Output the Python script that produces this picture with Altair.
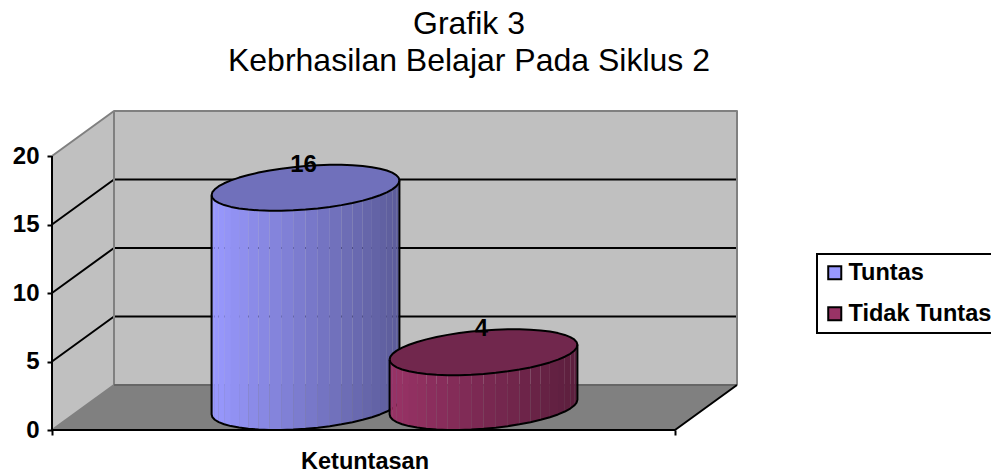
import math
import altair as alt
import pandas as pd

TITLE_LINES = ["Grafik 3", "Kebrhasilan Belajar Pada Siklus 2"]
SERIES = ["Tuntas", "Tidak Tuntas"]
VALUES = [16, 4]
CATEGORY = "Ketuntasan"
Y_TICKS = [0, 5, 10, 15, 20]
BASE_COLORS = ["#9999FF", "#993366"]
TOP_COLORS = ["#7070BB", "#71274D"]
CENTERS_X = [305.5, 483.5]

FONT = "Liberation Sans"
PX_PER_UNIT = 13.7
AXIS_MAX = 20
LEFT, RIGHT = 52, 675
DEPTH_X = 62
DEPTH_V = 45 / PX_PER_UNIT
PLOT_W, PLOT_H = 939, 330
R_X, R_DX, R_DY = 89.0, 30.0, 23 / PX_PER_UNIT
N = 24

xs = alt.Scale(domain=[LEFT, LEFT + PLOT_W], nice=False, zero=False)
ys = alt.Scale(domain=[0, PLOT_H / PX_PER_UNIT], nice=False, zero=False)
axis_style = dict(domain=False, grid=False, tickColor="#000000", tickWidth=2, tickSize=5)
X = alt.X("x:Q", scale=xs, title=CATEGORY, axis=alt.Axis(
    values=[LEFT, RIGHT], labels=False, titleFont=FONT, titleFontWeight="bold", titleFontSize=23.5,
    titleColor="#000000", titleX=312.5, titleY=19, titleAnchor="middle", **axis_style))
Y = alt.Y("y:Q", scale=ys, title=None, axis=alt.Axis(
    values=Y_TICKS, labelFont=FONT, labelFontWeight="bold", labelFontSize=24,
    labelColor="#000000", labelPadding=8, **axis_style))
Y2 = alt.Y2("y2:Q")


def mix(hex_color, k):
    r, g, b = (int(hex_color[i:i + 2], 16) for i in (1, 3, 5))
    return "#%02x%02x%02x" % (round(r * k), round(g * k), round(b * k))


def poly(rows, fill):
    return alt.Chart(pd.DataFrame(rows, columns=["x", "y", "y2"])).mark_area(
        fill=fill
    ).encode(x=X, y=Y, y2=Y2)


def lines(segments, color, width):
    rows = []
    for g, seg in enumerate(segments):
        for i, (x, y) in enumerate(seg):
            rows.append({"g": g, "i": i, "x": x, "y": y})
    return alt.Chart(pd.DataFrame(rows)).mark_line(
        color=color, strokeWidth=width, strokeJoin="round"
    ).encode(x=X, y=Y, detail="g:N", order="i:Q")


BX0, BX1 = LEFT + DEPTH_X, RIGHT + DEPTH_X
layers = []
# walls and floor
layers.append(poly([(BX0, DEPTH_V, DEPTH_V + AXIS_MAX), (BX1, DEPTH_V, DEPTH_V + AXIS_MAX)], "#C0C0C0"))
layers.append(poly([(LEFT, 0, AXIS_MAX), (BX0, DEPTH_V, DEPTH_V + AXIS_MAX)], "#C0C0C0"))
layers.append(poly([(LEFT, 0, 0), (BX0, DEPTH_V, 0), (RIGHT, DEPTH_V, 0), (BX1, DEPTH_V, DEPTH_V)], "#808080"))
# gridlines
grid = []
for t in Y_TICKS[1:-1]:
    grid.append([(LEFT, t), (BX0, t + DEPTH_V), (BX1, t + DEPTH_V)])
layers.append(lines(grid, "#000000", 2))
# wall edges
layers.append(lines([
    [(LEFT, AXIS_MAX), (BX0, AXIS_MAX + DEPTH_V), (BX1, AXIS_MAX + DEPTH_V), (BX1, DEPTH_V)],
    [(BX0, AXIS_MAX + DEPTH_V), (BX0, DEPTH_V)],
    [(LEFT, 0), (BX0, DEPTH_V)],
], "#808080", 2))
layers.append(lines([[(BX0, DEPTH_V), (BX1, DEPTH_V)]], "#666666", 2))

# cylinders
phi = math.atan2(R_DX, R_X)
R = math.hypot(R_X, R_DX)
us = [math.pi * (1 - i / N) for i in range(N + 1)]
for cx, val, base, top in zip(CENTERS_X, VALUES, BASE_COLORS, TOP_COLORS):
    c0, c1 = R_DY, R_DY + val
    px = [cx + R * math.cos(u) for u in us]
    low = [R_DY * math.sin(phi - u) for u in us]
    upp = [R_DY * math.sin(phi + u) for u in us]
    strips = []
    for i in range(N):
        f = ((px[i] + px[i + 1]) / 2 - (cx - R)) / (2 * R)
        col = mix(base, 1 - 0.4 * f)
        strips.append({"s": i, "c": col, "x": px[i], "y": c0 + low[i], "y2": c1 + low[i]})
        strips.append({"s": i, "c": col, "x": px[i + 1], "y": c0 + low[i + 1], "y2": c1 + low[i + 1]})
    layers.append(alt.Chart(pd.DataFrame(strips)).mark_area(strokeWidth=0).encode(
        x=X, y=Y, y2=Y2, detail="s:N", fill=alt.Fill("c:N", scale=None, legend=None)))
    layers.append(poly([(x, c1 + l, c1 + h) for x, l, h in zip(px, low, upp)], top))
    body = [(px[0], c1 + low[0])] + [(x, c0 + l) for x, l in zip(px, low)] + [(px[-1], c1 + low[-1])]
    ring = [(x, c1 + h) for x, h in zip(px, upp)] + [(x, c1 + l) for x, l in zip(px[::-1], low[::-1])]
    layers.append(lines([body, ring], "#000000", 2))

# front axis lines on top of the marks
layers.append(lines([
    [(LEFT, AXIS_MAX), (LEFT, 0), (RIGHT, 0), (BX1, DEPTH_V)],
], "#000000", 2))

# data labels
lab = pd.DataFrame({"x": CENTERS_X, "v": VALUES})
lab["y"] = lab["v"] + 2 * R_DY
lab["x"] = lab["x"] - 2
layers.append(alt.Chart(lab).mark_text(
    font=FONT, fontWeight="bold", fontSize=24, color="#000000", baseline="middle", align="center"
).encode(x=X, y=Y, text="v:Q"))

# legend
leg = pd.DataFrame({"name": SERIES, "x": CENTERS_X, "y": VALUES})
layers.append(alt.Chart(leg).mark_square(size=0, opacity=0).encode(
    x=X, y=Y,
    color=alt.Color("name:N", scale=alt.Scale(domain=SERIES, range=BASE_COLORS), legend=alt.Legend(
        orient="none", legendX=765, legendY=154, title=None, padding=7,
        strokeColor="#000000", fillColor="#FFFFFF",
        symbolType="square", symbolSize=170, symbolStrokeColor="#000000", symbolStrokeWidth=2,
        symbolOffset=-1, symbolOpacity=1, labelFont=FONT, labelFontWeight="bold", labelFontSize=23.5,
        labelColor="#000000", labelOffset=2, rowPadding=16, labelLimit=300))))

chart = alt.layer(*layers).properties(
    width=PLOT_W, height=PLOT_H,
    autosize=alt.AutoSizeParams(type="none"),
    padding={"left": 44, "top": 92, "right": 0, "bottom": 41},
    title=alt.TitleParams(
        text=TITLE_LINES, font=FONT, fontSize=32, fontWeight="normal", color="#000000",
        anchor="middle", dx=-52.5, offset=22, lineHeight=37),
).configure_view(stroke=None).configure_legend(strokeWidth=2)

chart.save("out.html", embed_options={"renderer": "svg", "actions": False})
